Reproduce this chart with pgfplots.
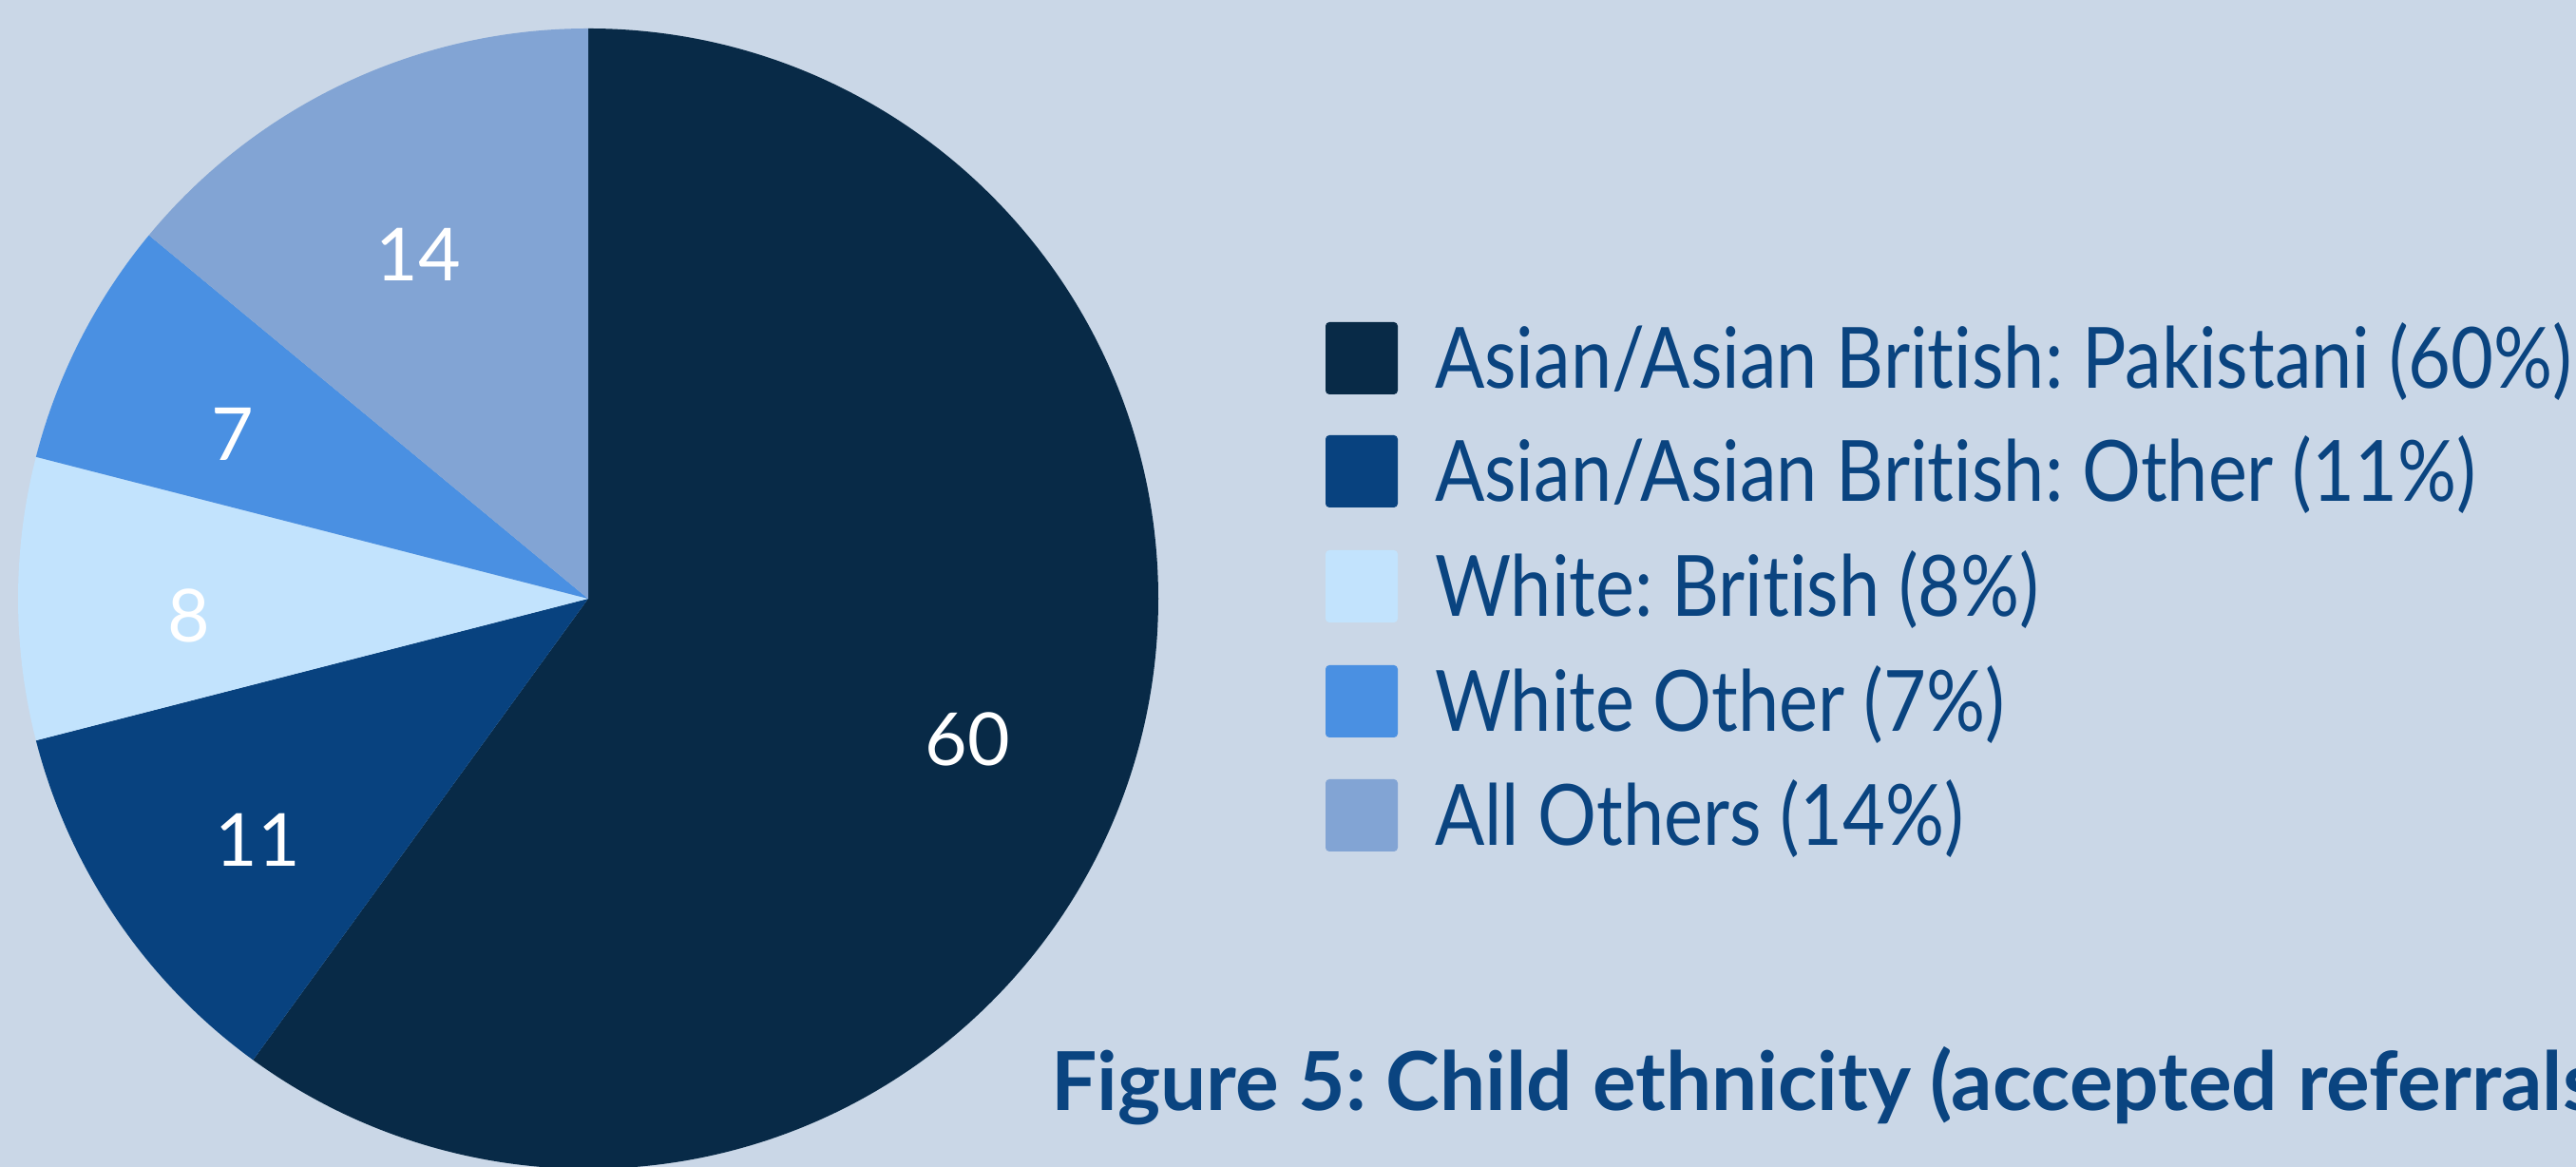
\documentclass[border=0pt]{standalone}
\usepackage{pgfplots}
\usepackage{pgfplotstable}
\pgfplotsset{compat=1.18}
\usepackage{fontspec}
\setmainfont{Lato}[RawFeature=-liga]
\newfontfamily\legendfont{Lato}[FakeStretch=0.87, RawFeature=-liga]
\frenchspacing
\definecolor{bg}{HTML}{CAD7E7}
\definecolor{slice0}{HTML}{082A47}
\definecolor{slice1}{HTML}{08427F}
\definecolor{slice2}{HTML}{C2E3FD}
\definecolor{slice3}{HTML}{4A90E2}
\definecolor{slice4}{HTML}{82A4D4}
\definecolor{txt}{HTML}{0A4480}

\pgfplotstableread{
value
60
11
8
7
14
}\piedata

\begin{document}
\begin{tikzpicture}
\path[use as bounding box, clip] (0,0) rectangle (271.1pt,122.8pt);
\fill[bg] (0,0) rectangle (271.1pt,122.8pt);
\begin{axis}[
  at={(0,0)}, anchor=south west,
  scale only axis, width=271.1pt, height=122.8pt,
  xmin=0, xmax=2711, ymin=0, ymax=1228,
  hide axis, clip=false,
]
\pgfplotsextra{
  \gdef\startang{90}
  \foreach \i in {0,...,4} {
    \pgfplotstablegetelem{\i}{value}\of\piedata
    \let\v\pgfplotsretval
    \pgfmathsetmacro\endang{\startang-3.6*\v}
    \pgfmathsetmacro\midang{(\startang+\endang)/2}
    \fill[slice\i] (axis cs:619,598) -- ++(\startang:60pt) arc[start angle=\startang, end angle=\endang, radius=60pt] -- cycle;
    \node[white, font=\fontsize{7.7}{9}\selectfont] at ([shift={(\midang:42pt)}, yshift=-1.8pt]axis cs:619,598) {\v};
    \xdef\startang{\endang}
  }
}
\fill[slice0, rounded corners=0.4pt] (axis cs:1395,813) rectangle (axis cs:1471,889);
\fill[slice1, rounded corners=0.4pt] (axis cs:1395,694) rectangle (axis cs:1471,770);
\fill[slice2, rounded corners=0.4pt] (axis cs:1395,573) rectangle (axis cs:1471,649);
\fill[slice3, rounded corners=0.4pt] (axis cs:1395,452) rectangle (axis cs:1471,528);
\fill[slice4, rounded corners=0.4pt] (axis cs:1395,332) rectangle (axis cs:1471,408);
\begin{scope}[every node/.style={anchor=base west, inner sep=0pt, text=txt, font=\legendfont\fontsize{8.9}{10}\selectfont}]
\node at (axis cs:1508,819) {Asian/Asian British: Pakistani (60\%)};
\node at (axis cs:1508,700) {Asian/Asian British: Other (11\%)};
\node at (axis cs:1508,579) {White: British (8\%)};
\node at (axis cs:1508,458) {White Other (7\%)};
\node at (axis cs:1508,338) {All Others (14\%)};
\end{scope}
\node[anchor=base west, inner sep=0pt, text=txt, font=\bfseries\fontsize{8.55}{10}\selectfont] at (axis cs:1104,59) {Figure 5: Child ethnicity (accepted referrals)};
\end{axis}
\end{tikzpicture}
\end{document}
